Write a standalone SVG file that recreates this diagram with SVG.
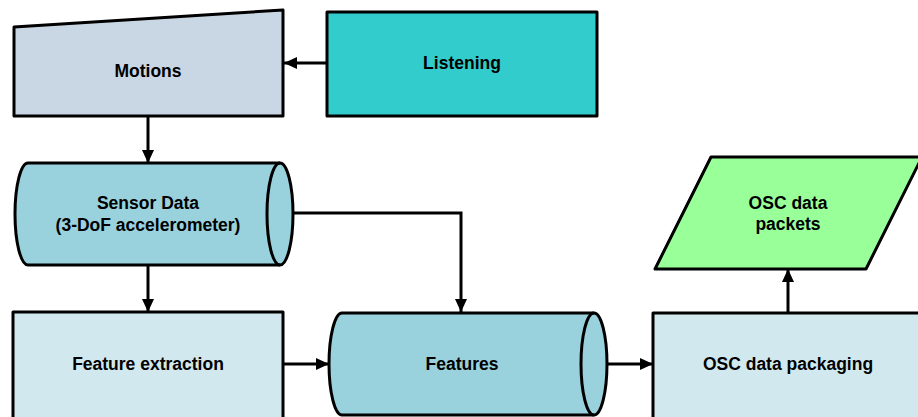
<svg xmlns="http://www.w3.org/2000/svg" width="918" height="417" viewBox="0 0 918 417">
<defs>
<marker id="ah" markerUnits="userSpaceOnUse" markerWidth="13" markerHeight="12" refX="13" refY="6" orient="auto">
<path d="M0,0 L13,6 L0,12 z" fill="#000"/>
</marker>
<style>
.s{stroke:#000;stroke-width:3;stroke-linejoin:round}
.c{fill:none;stroke:#000;stroke-width:3}
text{font-family:"Liberation Sans",Arial,sans-serif;font-weight:bold;font-size:17.5px;fill:#000;text-anchor:middle}
</style>
</defs>
<rect width="918" height="417" fill="#fff"/>
<g id="connectors">
<line class="c" x1="327" y1="63" x2="284" y2="63" marker-end="url(#ah)"/>
<line class="c" x1="148" y1="116" x2="148" y2="163" marker-end="url(#ah)"/>
<polyline class="c" points="293,213 461,213 461,312" marker-end="url(#ah)"/>
<line class="c" x1="148" y1="265" x2="148" y2="312" marker-end="url(#ah)"/>
<line class="c" x1="284" y1="364" x2="329" y2="364" marker-end="url(#ah)"/>
<line class="c" x1="607" y1="364" x2="653" y2="364" marker-end="url(#ah)"/>
<line class="c" x1="788" y1="313" x2="788" y2="269" marker-end="url(#ah)"/>
</g>
<g id="motions">
<path class="s" d="M14,27 L283,10 L283,116 L14,116 Z" fill="#C9D7E5"/>
<text x="148" y="77">Motions</text>
</g>
<g id="listening">
<rect class="s" x="327" y="12" width="270" height="104" fill="#33CCCC"/>
<text x="462" y="69">Listening</text>
</g>
<g id="sensor">
<path class="s" d="M28,163 L280,163 A13,51 0 0 1 280,265 L28,265 A13,51 0 0 1 28,163 Z" fill="#99D1DD"/>
<path class="s" d="M280,163 A13,51 0 0 0 280,265" fill="none"/>
<text x="148" y="209">Sensor Data</text>
<text x="148" y="231">(3-DoF accelerometer)</text>
</g>
<g id="feature-extraction">
<rect class="s" x="13" y="312" width="270" height="110" fill="#D2E8EF"/>
<text x="148" y="370">Feature extraction</text>
</g>
<g id="features">
<path class="s" d="M342,313 L594,313 A13,51 0 0 1 594,415 L342,415 A13,51 0 0 1 342,313 Z" fill="#99D1DD"/>
<path class="s" d="M594,313 A13,51 0 0 0 594,415" fill="none"/>
<text x="462" y="370">Features</text>
</g>
<g id="osc-packaging">
<rect class="s" x="653" y="313" width="280" height="110" fill="#D2E8EF"/>
<text x="788" y="370">OSC data packaging</text>
</g>
<g id="osc-packets">
<path class="s" d="M711,157 L922,157 L866,269 L655,269 Z" fill="#99FF99"/>
<text x="788" y="209">OSC data</text>
<text x="788" y="230">packets</text>
</g>
</svg>
